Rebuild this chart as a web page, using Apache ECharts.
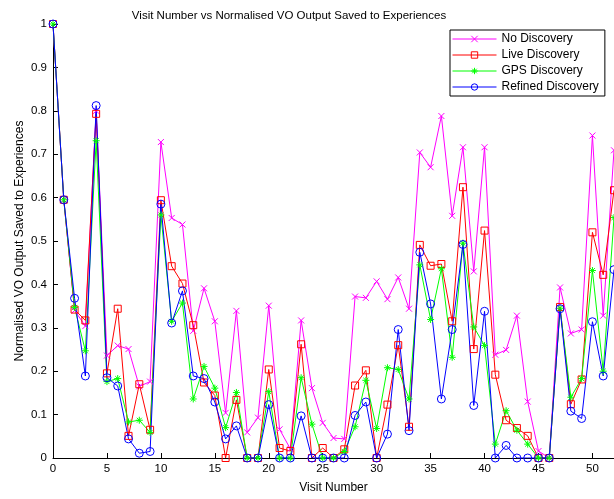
<!DOCTYPE html>
<html><head><meta charset="utf-8">
<script src="https://cdn.jsdelivr.net/npm/echarts@6/dist/echarts.min.js"></script>
<style>html,body{margin:0;padding:0;background:#fff}#c{width:614px;height:499px}</style>
</head><body><div id="c"></div>
<script>
var visits = [];
for (var i = 0; i <= 52; i++) visits.push(i);
var noDiscovery = [1.0, 0.595, 0.34, 0.304, 0.80, 0.236, 0.259, 0.251, 0.165, 0.176, 0.728, 0.553, 0.538, 0.293, 0.391, 0.315, 0.104, 0.339, 0.059, 0.093, 0.351, 0.066, 0.021, 0.317, 0.161, 0.081, 0.046, 0.044, 0.372, 0.369, 0.407, 0.366, 0.416, 0.344, 0.704, 0.670, 0.788, 0.558, 0.716, 0.430, 0.716, 0.238, 0.249, 0.328, 0.130, 0.016, 0.0, 0.393, 0.287, 0.296, 0.743, 0.328, 0.709];
var liveDiscovery = [1.0, 0.595, 0.342, 0.317, 0.793, 0.195, 0.344, 0.051, 0.170, 0.065, 0.594, 0.442, 0.402, 0.306, 0.174, 0.144, 0.0, 0.134, 0.0, 0.0, 0.204, 0.023, 0.016, 0.262, 0.0, 0.023, 0.0, 0.020, 0.167, 0.202, 0.0, 0.123, 0.260, 0.072, 0.491, 0.443, 0.447, 0.315, 0.624, 0.251, 0.524, 0.192, 0.087, 0.069, 0.051, 0.0, 0.0, 0.348, 0.124, 0.181, 0.520, 0.422, 0.617];
var gpsDiscovery = [1.0, 0.595, 0.347, 0.247, 0.731, 0.176, 0.183, 0.083, 0.087, 0.059, 0.560, 0.315, 0.357, 0.136, 0.211, 0.161, 0.070, 0.151, 0.0, 0.0, 0.153, 0.0, 0.0, 0.185, 0.078, 0.0, 0.0, 0.015, 0.072, 0.179, 0.068, 0.208, 0.204, 0.136, 0.445, 0.319, 0.436, 0.232, 0.495, 0.302, 0.259, 0.032, 0.109, 0.064, 0.032, 0.0, 0.0, 0.345, 0.140, 0.183, 0.432, 0.20, 0.554];
var refinedDiscovery = [1.0, 0.595, 0.368, 0.189, 0.812, 0.185, 0.166, 0.044, 0.011, 0.015, 0.585, 0.311, 0.385, 0.189, 0.183, 0.129, 0.044, 0.074, 0.0, 0.0, 0.123, 0.0, 0.0, 0.097, 0.0, 0.0, 0.0, 0.0, 0.098, 0.129, 0.0, 0.055, 0.296, 0.063, 0.474, 0.355, 0.136, 0.296, 0.492, 0.121, 0.338, 0.0, 0.029, 0.0, 0.0, 0.0, 0.0, 0.344, 0.108, 0.091, 0.314, 0.189, 0.434];
var seriesNames = ['No Discovery', 'Live Discovery', 'GPS Discovery', 'Refined Discovery'];
var seriesColors = ['#ff00ff', '#ff0000', '#00ff00', '#0000ff'];
var seriesSymbols = [
  'path://M0,0L10,10M10,0L0,10',
  'rect',
  'path://M5,0L5,10M0,5L10,5M1.5,1.5L8.5,8.5M8.5,1.5L1.5,8.5',
  'circle'
];
var seriesSizes = [6, 7, 7, 8];
var allData = [noDiscovery, liveDiscovery, gpsDiscovery, refinedDiscovery];

var FONT = 'Liberation Sans, Arial, Helvetica, sans-serif';
var chart = echarts.init(document.getElementById('c'), null, {renderer: 'canvas'});
var series = allData.map(function (d, k) {
  return {
    name: seriesNames[k],
    type: 'line',
    data: visits.map(function (v, i) { return [v, d[i]]; }),
    symbol: seriesSymbols[k],
    symbolSize: seriesSizes[k],
    showAllSymbol: true,
    animation: false,
    lineStyle: {color: seriesColors[k], width: 1},
    itemStyle: {color: 'rgba(255,255,255,0)', borderColor: seriesColors[k], borderWidth: 1, opacity: 1},
    emphasis: {disabled: true}
  };
});

chart.setOption({
  animation: false,
  backgroundColor: '#ffffff',
  title: {
    text: 'Visit Number vs Normalised VO Output Saved to Experiences',
    left: 284, top: 5, textAlign: 'center',
    textStyle: {fontFamily: FONT, fontSize: 11.5, fontWeight: 'normal', color: '#000'}
  },
  legend: {
    orient: 'vertical',
    left: 450, top: 30,
    width: 157,
    padding: [3, 6, 3, 2],
    itemGap: 4,
    itemWidth: 44,
    itemHeight: 8,
    borderColor: '#000',
    borderWidth: 1,
    backgroundColor: '#fff',
    lineStyle: {width: 1},
    itemStyle: {borderWidth: 1},
    textStyle: {fontFamily: FONT, fontSize: 12, color: '#000', padding: [0, 0, 0, 0]},
    data: seriesNames
  },
  grid: {left: 53, right: 0, top: 24, bottom: 33, containLabel: false},
  xAxis: {
    type: 'value', min: 0, max: 52, interval: 5,
    name: 'Visit Number', nameLocation: 'middle', nameGap: 24,
    nameTextStyle: {fontFamily: FONT, fontSize: 12, color: '#000'},
    axisLine: {lineStyle: {color: '#000', width: 1}},
    axisTick: {inside: true, length: 5, lineStyle: {color: '#000'}},
    axisLabel: {fontFamily: FONT, fontSize: 11.5, color: '#000', margin: 5, showMaxLabel: false,
      formatter: function (v) { return v % 5 === 0 ? String(v) : ''; }},
    splitLine: {show: false}
  },
  yAxis: {
    type: 'value', min: 0, max: 1, interval: 0.1,
    name: 'Normalised VO Output Saved to Experiences', nameLocation: 'middle', nameGap: 27,
    nameMoveOverlap: false,
    nameTextStyle: {fontFamily: FONT, fontSize: 12, color: '#000'},
    axisLine: {lineStyle: {color: '#000', width: 1}},
    axisTick: {inside: true, length: 5, lineStyle: {color: '#000'}},
    axisLabel: {fontFamily: FONT, fontSize: 11.5, color: '#000', margin: 6,
      formatter: function (v) { return String(Math.round(v * 10) / 10); }},
    splitLine: {show: false}
  },
  series: series
});
</script></body></html>
